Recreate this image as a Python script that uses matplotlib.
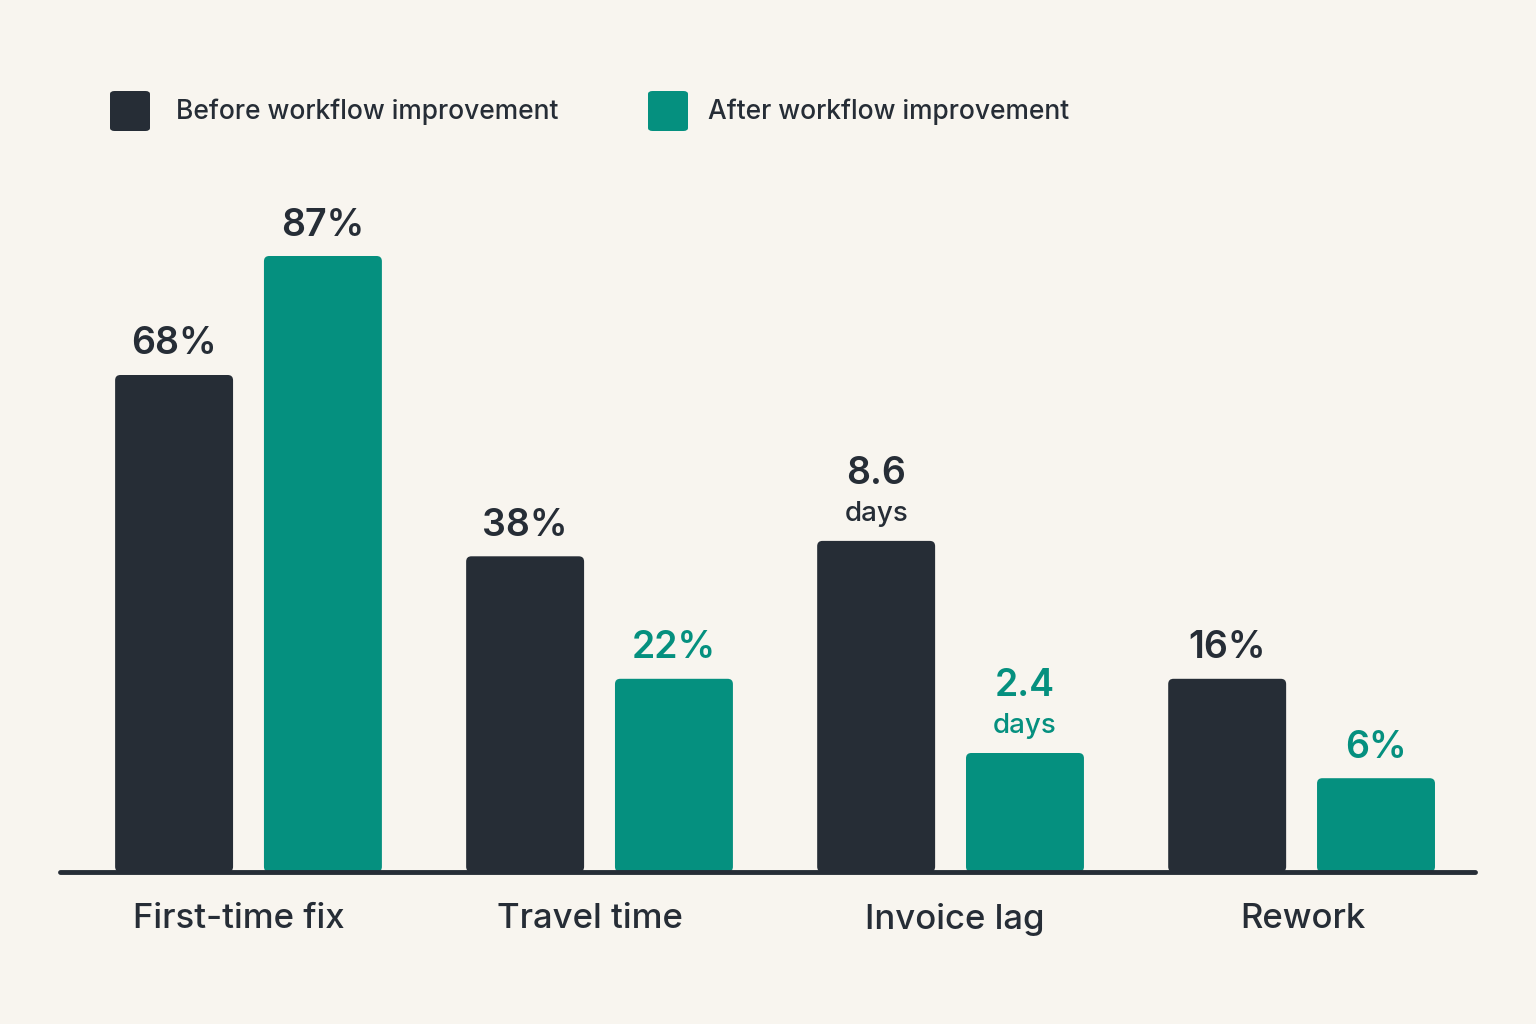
import numpy as np
import matplotlib.pyplot as plt
from matplotlib.patches import FancyBboxPatch
from matplotlib.transforms import ScaledTranslation

plt.rcParams['font.family'] = ['Inter', 'DejaVu Sans']

categories = ['First-time fix', 'Travel time', 'Invoice lag', 'Rework']
series = ['Before workflow improvement', 'After workflow improvement']

# value labels shown above bars
before_labels = ['68%', '38%', '8.6\ndays', '16%']
after_labels = ['87%', '22%', '2.4\ndays', '6%']

# drawn bar heights (chart units, 0-100)
before_heights = [71.0, 45.1, 47.3, 27.6]
after_heights = [88.0, 27.6, 17.0, 13.4]

dark = '#262d36'
teal = '#05907f'
bg = '#f8f5ef'

# label colours (the tallest after-label is dark in the original)
before_label_colors = [dark, dark, dark, dark]
after_label_colors = [dark, teal, teal, teal]

fig = plt.figure(figsize=(15.36, 10.24), dpi=100, facecolor=bg)
ax = fig.add_axes([60 / 1536, 152 / 1024, 1415 / 1536, 700 / 1024])
ax.set_facecolor(bg)

x = np.arange(len(categories))
w = 0.336
off = 0.212


def rounded_bars(xs, heights, color):
    bars = ax.bar(xs, heights, w, color=color)
    for b in bars:
        b.set_visible(False)
        p = FancyBboxPatch((b.get_x(), 0), b.get_width(), b.get_height(),
                           boxstyle='round,pad=0,rounding_size=0.015',
                           mutation_aspect=100 / 4.03 * 1415 / 700,
                           facecolor=color, edgecolor='none', zorder=2)
        ax.add_patch(p)
    return bars


rounded_bars(x - off, before_heights, dark)
rounded_bars(x + off, after_heights, teal)


def add_labels(xs, heights, labels, colors):
    for xi, h, lab, color in zip(xs, heights, labels, colors):
        if '\n' in lab:
            num, unit = lab.split('\n')
            ax.annotate(unit, (xi, h), xytext=(0, 10), textcoords='offset points',
                        ha='center', va='bottom', fontsize=20, color=color,
                        fontweight='medium')
            ax.annotate(num, (xi, h), xytext=(0, 35), textcoords='offset points',
                        ha='center', va='bottom', fontsize=27, color=color,
                        fontweight='semibold')
        else:
            ax.annotate(lab, (xi, h), xytext=(0, 9), textcoords='offset points',
                        ha='center', va='bottom', fontsize=27, color=color,
                        fontweight='semibold')


add_labels(x - off, before_heights, before_labels, before_label_colors)
add_labels(x + off, after_heights, after_labels, after_label_colors)

ax.set_xlim(-0.537, 3.494)
ax.set_ylim(0, 100)
ax.axhline(0, color=dark, lw=3.5, solid_capstyle='round', zorder=3, clip_on=False)

for s in ax.spines.values():
    s.set_visible(False)
ax.set_yticks([])
ax.set_xticks(x)
ax.set_xticklabels(categories, fontsize=25, color=dark, fontweight='medium')
ax.tick_params(axis='x', length=0, pad=22)

# small horizontal nudges of the category labels (pixels)
nudges = [-10, -10, 4, 1]
for lab, dx in zip(ax.get_xticklabels(), nudges):
    lab.set_transform(lab.get_transform() + ScaledTranslation(dx / 100, 0, fig.dpi_scale_trans))

# legend drawn by hand
legend_x = [110, 648]
text_x = [176, 708]
for name, col, lx, tx in zip(series, [dark, teal], legend_x, text_x):
    sq = FancyBboxPatch((lx / 1536, 1 - 131 / 1024), 40 / 1536, 40 / 1024,
                        boxstyle='round,pad=0,rounding_size=0.003',
                        transform=fig.transFigure, facecolor=col,
                        edgecolor='none')
    fig.patches.append(sq)
    fig.text(tx / 1536, 1 - 112 / 1024, name, fontsize=19, color=dark,
             va='center', ha='left', fontweight='medium')

fig.savefig('out.png', dpi=100, facecolor=bg)
